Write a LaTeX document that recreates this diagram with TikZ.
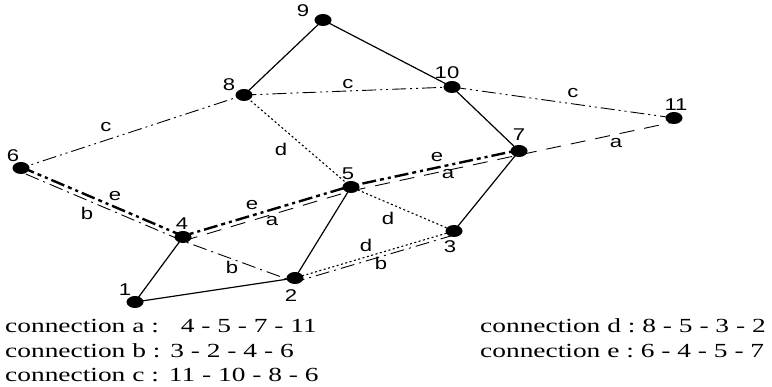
\documentclass[tikz,border=0pt]{standalone}
\usepackage{fontspec}
\setmainfont[FakeStretch=1.37]{Liberation Serif}
\newfontfamily\lblfont[FakeStretch=1.3]{Liberation Sans}
\usetikzlibrary{shapes.geometric,backgrounds}

\begin{document}
\begin{tikzpicture}[x=1pt,y=-1pt,
  dot/.style={ellipse,fill=black,minimum width=17pt,minimum height=12pt,inner sep=0pt},
  lbl/.style={font=\lblfont\fontsize{17}{17}\selectfont,inner sep=0pt},
  link/.style={line width=1.2pt},
  conna/.style={line width=0.9pt,dash pattern=on 15pt off 10pt},
  connb/.style={line width=0.9pt,dash pattern=on 14pt off 5pt on 2pt off 5pt},
  connc/.style={line width=0.9pt,dash pattern=on 14pt off 4pt on 2pt off 4pt on 2pt off 4pt},
  connd/.style={line width=1.1pt,dash pattern=on 2pt off 2.5pt},
  conne/.style={line width=2.4pt,dash pattern=on 14pt off 4pt on 4pt off 4pt on 3pt off 4pt},
  legend/.style={font=\fontsize{20}{20}\selectfont,anchor=base west,inner sep=0pt}
]
\useasboundingbox (0,0) rectangle (772,387);

% network nodes
\node[dot] (n1)  at (135,302) {};
\node[dot] (n2)  at (295,278) {};
\node[dot] (n3)  at (454,231) {};
\node[dot] (n4)  at (183,237) {};
\node[dot] (n5)  at (351,187) {};
\node[dot] (n6)  at (21,168)  {};
\node[dot] (n7)  at (519,151) {};
\node[dot] (n8)  at (244,95)  {};
\node[dot] (n9)  at (323,20)  {};
\node[dot] (n10) at (452,87)  {};
\node[dot] (n11) at (674,118) {};

% node numbers
\node[lbl] (t1)  at (125,290) {1};
\node[lbl] (t2)  at (291,296) {2};
\node[lbl] (t3)  at (450,247) {3};
\node[lbl] (t4)  at (182,224) {4};
\node[lbl] (t5)  at (348,174) {5};
\node[lbl] (t6)  at (13,156)  {6};
\node[lbl] (t7)  at (519,135) {7};
\node[lbl] (t8)  at (229,85)  {8};
\node[lbl] (t9)  at (303,11)  {9};
\node[lbl] (t10) at (447,73)  {10};
\node[lbl] (t11) at (676,105) {11};

% connection letters
\node[lbl] (la1) at (272,221) {a};
\node[lbl] (la2) at (448,174) {a};
\node[lbl] (la3) at (616,143) {a};
\node[lbl] (lb1) at (87,213)  {b};
\node[lbl] (lb2) at (232,267) {b};
\node[lbl] (lb3) at (381,263) {b};
\node[lbl] (lc1) at (106,127) {c};
\node[lbl] (lc2) at (348,84)  {c};
\node[lbl] (lc3) at (573,93)  {c};
\node[lbl] (ld1) at (281,149) {d};
\node[lbl] (ld2) at (388,218) {d};
\node[lbl] (ld3) at (366,245) {d};
\node[lbl] (le1) at (115,196) {e};
\node[lbl] (le2) at (252,205) {e};
\node[lbl] (le3) at (437,157) {e};

\begin{scope}[on background layer]
  % physical links
  \draw[link] (n1.center) -- (n4.center);
  \draw[link] (n1.center) -- (n2.center);
  \draw[link] (n2.center) -- (n5.center);
  \draw[link] (n3.center) -- (n7.center);
  \draw[link] (n7.center) -- (n10.center);
  \draw[link] (n8.center) -- (n9.center);
  \draw[link] (n9.center) -- (n10.center);
  % connection a : 4 - 5 - 7 - 11
  \draw[conna] ([yshift=-4pt]n4.center) -- ([yshift=-4pt]n5.center)
     -- ([yshift=-4pt]n7.center) -- ([yshift=-4pt]n11.center);
  % connection b : 3 - 2 - 4 - 6
  \draw[connb] ([yshift=-4pt]n3.center) -- ([yshift=-4pt]n2.center)
     -- ([yshift=-4pt]n4.center) -- ([yshift=-4pt]n6.center);
  % connection c : 11 - 10 - 8 - 6
  \draw[connc] (n11.center) -- (n10.center) -- (n8.center) -- (n6.center);
  % connection d : 8 - 5 - 3 - 2
  \draw[connd] (n8.center) -- (n5.center) -- (n3.center) -- (n2.center);
  % connection e : 6 - 4 - 5 - 7
  \draw[conne] ([yshift=1pt]n6.center) -- ([yshift=1pt]n4.center)
     -- ([yshift=1pt]n5.center) -- ([yshift=1pt]n7.center);
\end{scope}

% legend
\node[legend] (ca) at (5,333)   {connection a :\hspace{1.1em}4 - 5 - 7 - 11};
\node[legend] (cb) at (5,358)   {connection b :\hspace{0.5em}3 - 2 - 4 - 6};
\node[legend] (cc) at (5,382)   {connection c :\hspace{0.5em}11 - 10 - 8 - 6};
\node[legend] (cd) at (480,333) {connection d :\hspace{0.35em}8 - 5 - 3 - 2};
\node[legend] (ce) at (480,358) {connection e :\hspace{0.35em}6 - 4 - 5 - 7};
\end{tikzpicture}
\end{document}
